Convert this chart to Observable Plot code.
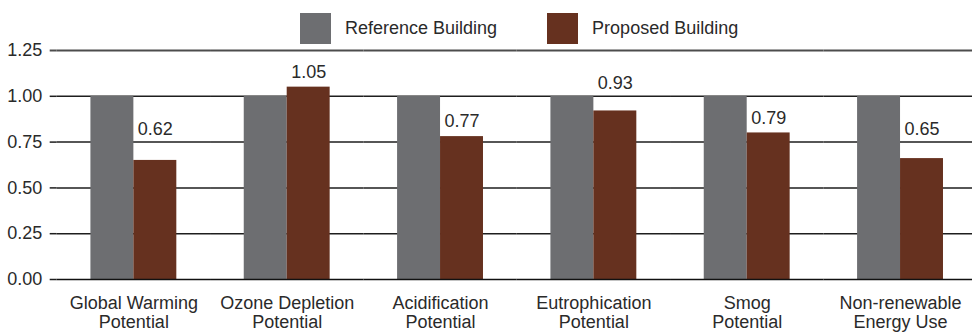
<!DOCTYPE html>
<html>
<head>
<meta charset="utf-8">
<script src="https://cdn.jsdelivr.net/npm/d3@7"></script>
<script src="https://cdn.jsdelivr.net/npm/@observablehq/plot@0.6"></script>
<style>
  html, body { margin: 0; padding: 0; background: #fff; }
  #wrap { position: relative; width: 972px; height: 335px; font-family: "Liberation Sans", Arial, sans-serif; }
  #legend { position: absolute; top: 13px; left: 300px; display: flex; align-items: center; font-size: 18px; color: #2a2a2a; }
  .item { display: flex; align-items: center; }
  .sw { width: 31px; height: 31px; display: inline-block; }
  .lab { margin-left: 14px; }
</style>
</head>
<body>
<div id="wrap"><div id="legend"></div></div>
<script>
const categories = [
  "Global Warming\nPotential",
  "Ozone Depletion\nPotential",
  "Acidification\nPotential",
  "Eutrophication\nPotential",
  "Smog\nPotential",
  "Non-renewable\nEnergy Use"
];
const series = ["Reference Building", "Proposed Building"];
const referenceValues = [1, 1, 1, 1, 1, 1];
const proposedValues = [0.65, 1.05, 0.78, 0.92, 0.80, 0.66];
const proposedLabels = ["0.62", "1.05", "0.77", "0.93", "0.79", "0.65"];
const yTicks = [0, 0.25, 0.5, 0.75, 1.0, 1.25];
const colors = ["#6d6e71", "#66311f"];

// long table for the bars
const rows = [];
categories.forEach((c, i) => {
  rows.push({category: c, series: series[0], value: referenceValues[i]});
  rows.push({category: c, series: series[1], value: proposedValues[i]});
});

// value labels sit above the proposed bar, lifted above a gridline if they would cross it
const labelRows = categories.map((c, i) => {
  let ly = proposedValues[i] + 0.082;
  const hit = yTicks.find(g => g > ly - 0.05 && g < ly + 0.04);
  if (hit !== undefined) ly = hit + 0.07;
  return {category: c, series: series[1], y: ly, text: proposedLabels[i]};
});

// legend
const legend = document.getElementById("legend");
series.forEach((s, i) => {
  const it = document.createElement("div");
  it.className = "item";
  if (i > 0) it.style.marginLeft = "50px";
  it.innerHTML = `<span class="sw" style="background:${colors[i]}"></span><span class="lab">${s}</span>`;
  legend.appendChild(it);
});

const chart = Plot.plot({
  width: 972,
  height: 335,
  marginTop: 50,
  marginBottom: 56,
  marginLeft: 57,
  marginRight: 0,
  style: {fontFamily: "Liberation Sans, Arial, sans-serif", fontSize: "18px", color: "#2a2a2a", background: "transparent"},
  fx: {domain: categories, range: [56.7, 976.7], round: false, paddingInner: 0, paddingOuter: 0, label: null},
  x: {domain: series, round: false, paddingInner: 0, paddingOuter: 0.785, axis: null},
  y: {domain: [0, 1.25], label: null},
  color: {domain: series, range: colors},
  marks: [
    Plot.ruleY(yTicks.filter(t => t > 0 && t < 1.25), {stroke: "#1e1e1e", strokeWidth: 1.5}),
    Plot.ruleY([1.25], {stroke: "#4d4d4d", strokeWidth: 2}),
    Plot.barY(rows, {fx: "category", x: "series", y: "value", fill: "series"}),
    Plot.ruleY([0], {stroke: "#111", strokeWidth: 1.5}),
    Plot.text(labelRows, {fx: "category", x: "series", y: "y", text: "text", fontSize: 18, fill: "#2a2a2a"}),
    Plot.axisY({ticks: yTicks.filter(t => t < 1.25), tickSize: 7, tickPadding: 8, tickFormat: d3.format(".2f"), fontSize: 18, stroke: "#1e1e1e", strokeWidth: 1.5, label: null}),
    Plot.axisY({ticks: [1.25], tickSize: 7, tickPadding: 8, tickFormat: d3.format(".2f"), fontSize: 18, stroke: "#4d4d4d", strokeWidth: 2, label: null}),
    Plot.axisFx({anchor: "bottom", tickSize: 0, tickPadding: 15, lineHeight: 1.1, fontSize: 18, label: null})
  ]
});
chart.style.position = "absolute";
chart.style.left = "0";
chart.style.top = "0";
document.getElementById("wrap").insertBefore(chart, legend);
</script>
</body>
</html>
